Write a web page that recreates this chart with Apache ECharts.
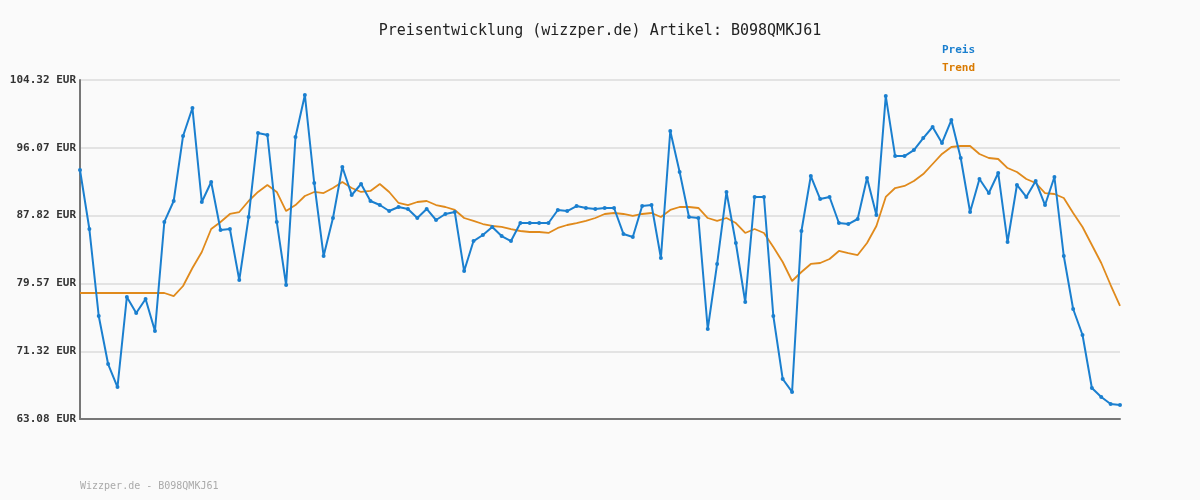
<!DOCTYPE html>
<html>
<head>
<meta charset="utf-8">
<script src="https://cdn.jsdelivr.net/npm/echarts@6/dist/echarts.min.js"></script>
<style>html,body{margin:0;padding:0;background:#fafafa;}#main{width:1200px;height:500px;}</style>
</head>
<body>
<div id="main"></div>
<script>
// Preis-Werte, von links nach rechts
var preis = [93.37, 86.19, 75.61, 69.77, 66.97, 77.92, 75.98, 77.68, 73.79, 87.05,
	89.60, 97.51, 100.91, 89.48, 91.91, 86.07, 86.19, 79.99, 87.65, 97.87,
	97.63, 87.05, 79.38, 97.39, 102.50, 91.79, 82.91, 87.53, 93.74, 90.33,
	91.67, 89.60, 89.11, 88.38, 88.87, 88.63, 87.53, 88.63, 87.29, 88.02,
	88.26, 81.08, 84.73, 85.46, 86.44, 85.34, 84.73, 86.92, 86.92, 86.92,
	86.92, 88.51, 88.38, 88.99, 88.75, 88.63, 88.75, 88.75, 85.59, 85.22,
	88.99, 89.11, 82.67, 98.12, 93.13, 87.65, 87.53, 74.03, 81.94, 90.70,
	84.49, 77.31, 90.09, 90.09, 75.61, 67.95, 66.37, 85.95, 92.64, 89.84,
	90.09, 86.92, 86.80, 87.41, 92.40, 87.90, 102.37, 95.07, 95.07, 95.80,
	97.26, 98.60, 96.66, 99.45, 94.83, 88.26, 92.28, 90.57, 93.01, 84.61,
	91.55, 90.09, 92.03, 89.11, 92.52, 82.91, 76.46, 73.30, 66.85, 65.76,
	64.91, 64.79];
// Trendlinie
var trend = [78.41, 78.41, 78.41, 78.41, 78.41, 78.41, 78.41, 78.41, 78.41, 78.41,
	78.04, 79.26, 81.45, 83.40, 86.19, 87.05, 88.02, 88.26, 89.60, 90.70,
	91.55, 90.70, 88.38, 89.11, 90.21, 90.70, 90.57, 91.18, 91.91, 91.18,
	90.70, 90.82, 91.67, 90.70, 89.36, 89.11, 89.48, 89.60, 89.11, 88.87,
	88.51, 87.53, 87.17, 86.80, 86.56, 86.44, 86.19, 85.95, 85.83, 85.83,
	85.71, 86.32, 86.68, 86.92, 87.17, 87.53, 88.02, 88.14, 88.02, 87.78,
	88.02, 88.14, 87.65, 88.51, 88.87, 88.87, 88.75, 87.53, 87.17, 87.53,
	86.92, 85.71, 86.19, 85.71, 84.00, 82.18, 79.87, 80.96, 81.94, 82.06,
	82.54, 83.52, 83.27, 83.03, 84.49, 86.56, 90.09, 91.18, 91.43, 92.03,
	92.88, 94.10, 95.32, 96.17, 96.29, 96.29, 95.32, 94.83, 94.71, 93.61,
	93.13, 92.28, 91.79, 90.57, 90.45, 89.97, 88.14, 86.44, 84.25, 82.06,
	79.38, 76.83];
var yTicks = [63.08, 71.32, 79.57, 87.82, 96.07, 104.32];
var tage = [];
for (var i = 0; i < preis.length; i++) {
	tage.push(String(i + 1));
}

var mono = '"DejaVu Sans Mono", monospace';
var myChart = echarts.init(document.getElementById("main"));
var option = {
	backgroundColor: '#fafafa',
	animation: false,
	title: {
		text: 'Preisentwicklung (wizzper.de) Artikel: B098QMKJ61',
		left: 'center',
		top: 19,
		textStyle: {fontFamily: mono, fontSize: 15, fontWeight: 'normal', color: '#222'}
	},
	legend: {
		orient: 'vertical',
		left: 932,
		top: 38,
		icon: 'none',
		itemGap: 6,
		itemWidth: 0,
		data: [
			{name: 'Preis', textStyle: {color: '#1a7fcf'}},
			{name: 'Trend', textStyle: {color: '#d97a00'}}
		],
		textStyle: {fontFamily: mono, fontSize: 11, fontWeight: 'bold'}
	},
	graphic: [{
		type: 'text', left: 80, top: 481,
		style: {text: 'Wizzper.de - B098QMKJ61', fill: '#aaa', font: '10px ' + mono}
	}],
	grid: {left: 80, right: 80, top: 80, bottom: 81},
	xAxis: {
		type: 'category',
		data: tage,
		boundaryGap: false,
		axisLine: {lineStyle: {color: '#777', width: 2}},
		axisTick: {show: false},
		axisLabel: {show: false}
	},
	yAxis: {
		type: 'value',
		min: yTicks[0],
		max: yTicks[yTicks.length - 1],
		axisLine: {show: true, lineStyle: {color: '#777', width: 2}},
		axisTick: {show: false, customValues: yTicks},
		axisLabel: {
			customValues: yTicks,
			fontFamily: mono, fontSize: 11, fontWeight: 'bold', color: '#333', margin: 4,
			formatter: function (v) { return v.toFixed(2) + ' EUR'; }
		},
		splitLine: {lineStyle: {color: '#e3e3e3', width: 2}}
	},
	series: [{
		name: 'Preis',
		type: 'line',
		data: preis,
		symbol: 'circle',
		symbolSize: 4,
		itemStyle: {color: '#1a7fcf'},
		lineStyle: {color: '#1a7fcf', width: 2},
		z: 3
	}, {
		name: 'Trend',
		type: 'line',
		data: trend,
		symbol: 'none',
		itemStyle: {color: '#e08a1c'},
		lineStyle: {color: '#e08a1c', width: 1.8},
		z: 2
	}]
};
myChart.setOption(option);
</script>
</body>
</html>
